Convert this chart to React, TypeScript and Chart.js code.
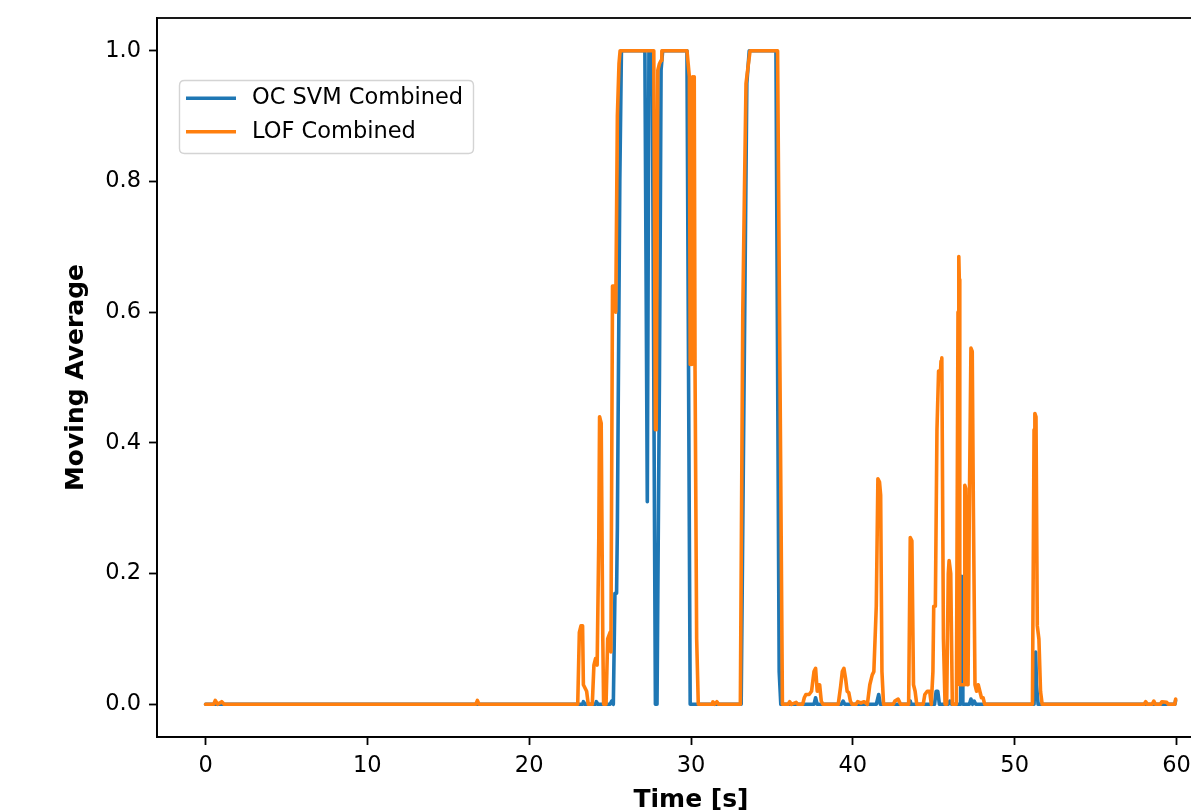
import React, { useEffect, useRef } from 'react';
import { Chart, registerables } from 'chart.js';

Chart.register(...registerables);

const FONT = '"DejaVu Sans", "Liberation Sans", sans-serif';
const BLUE = '#1f77b4';
const ORANGE = '#ff7f0e';

const X_TICKS = [0, 10, 20, 30, 40, 50, 60];
const Y_TICKS = [0, 0.2, 0.4, 0.6, 0.8, 1.0];

// LOF Combined (orange)
const LOF_T = [
  0, 0.5, 0.6, 0.75, 1.0, 1.15, 16.7, 16.8, 16.9,
  23.0, 23.1, 23.2, 23.3, 23.35, 23.45, 23.55, 23.65, 23.9, 24.0, 24.1, 24.2, 24.3, 24.35, 24.45, 24.55, 24.6,
  24.75, 24.85, 25.0, 25.05, 25.15, 25.3, 25.35, 25.45, 25.55, 25.62,
  27.7, 27.8, 27.85, 27.95, 28.05, 28.15, 28.2,
  29.75, 29.9, 29.95, 30.0, 30.05, 30.1, 30.15, 30.2, 30.25, 30.35, 30.45,
  31.3, 31.35, 31.45, 31.6, 31.7,
  33.05, 33.2, 33.3, 33.4, 33.5, 33.65,
  35.35, 35.5, 35.65,
  36.0, 36.1, 36.2, 36.5, 36.6, 36.9, 37.0, 37.1, 37.3, 37.45, 37.6, 37.7, 37.8, 37.85, 37.95, 38.05, 38.15,
  39.1, 39.25, 39.35, 39.45, 39.55, 39.65, 39.75, 39.85, 39.95,
  40.2, 40.3, 40.5, 40.7, 40.9, 41.05, 41.2, 41.3, 41.45, 41.55, 41.65, 41.72, 41.8, 41.9,
  42.5, 42.6, 42.8, 42.95, 43.45, 43.55, 43.65, 43.75, 43.85, 43.95,
  44.35, 44.45, 44.6, 44.75, 44.85, 44.95, 45.0, 45.1, 45.2, 45.3, 45.4, 45.45, 45.5, 45.6, 45.7,
  45.8, 45.9, 45.95, 46.05, 46.15,
  46.4, 46.5, 46.55, 46.58, 46.61, 46.88, 46.92, 46.98, 47.01, 47.06, 47.12, 47.2, 47.3, 47.38, 47.45, 47.55,
  47.65, 47.75, 47.85, 47.95, 48.05, 48.15,
  51.1, 51.2, 51.25, 51.32, 51.4, 51.5, 51.6, 51.7,
  58.0, 58.1, 58.2, 58.5, 58.6, 58.7, 59.0, 59.1, 59.4, 59.5, 59.9, 59.95,
];
const LOF_V = [
  0, 0, 0.006, 0, 0.004, 0, 0, 0.006, 0,
  0, 0.11, 0.12, 0.12, 0.03, 0.025, 0.02, 0, 0, 0.06, 0.07, 0.06, 0.25, 0.44, 0.43, 0.1, 0,
  0, 0.1, 0.11, 0.08, 0.64, 0.64, 0.6, 0.9, 0.98, 1.0,
  1.0, 0.42, 0.42, 0.97, 0.98, 0.985, 1.0,
  1.0, 0.96, 0.52, 0.95, 0.52, 0.96, 0.53, 0.96, 0.51, 0.1, 0,
  0, 0.004, 0, 0.004, 0,
  0, 0.6, 0.78, 0.95, 0.97, 1.0,
  1.0, 0.5, 0,
  0, 0.004, 0, 0.003, 0, 0, 0.01, 0.015, 0.015, 0.02, 0.05, 0.055, 0.02, 0.03, 0.03, 0.005, 0,
  0, 0.028, 0.05, 0.055, 0.04, 0.02, 0.018, 0.005, 0,
  0, 0.004, 0.002, 0.004, 0, 0.03, 0.045, 0.05, 0.15, 0.345, 0.34, 0.32, 0.05, 0,
  0, 0.005, 0.008, 0, 0, 0.255, 0.25, 0.03, 0.02, 0,
  0, 0.015, 0.02, 0.02, 0, 0.05, 0.15, 0.15, 0.42, 0.51, 0.5, 0.525, 0.53, 0.1, 0,
  0, 0.2, 0.22, 0.2, 0,
  0, 0.6, 0.685, 0.65, 0.03, 0.03, 0.335, 0.33, 0.25, 0.03, 0.03, 0.3, 0.545, 0.54, 0.3, 0.03,
  0.02, 0.03, 0.02, 0.01, 0.01, 0,
  0, 0.42, 0.445, 0.44, 0.12, 0.1, 0.02, 0,
  0, 0.004, 0, 0, 0.005, 0, 0, 0.004, 0.003, 0, 0, 0.008,
];

// OC SVM Combined (blue)
const SVM_T = [
  0, 23.3, 23.35, 23.45, 24.1, 24.15, 24.25, 25.0, 25.1, 25.2, 25.3, 25.4, 25.45, 25.5, 25.6, 25.7,
  27.15, 27.3, 27.4, 27.6, 27.8, 27.9, 28.05, 28.15, 28.25,
  29.75, 29.95,
  33.1, 33.35, 33.45, 33.6,
  35.25, 35.45, 35.55,
  37.6, 37.7, 37.8, 39.3, 39.4, 39.5, 41.45, 41.6, 41.7, 43.5, 43.55, 43.6,
  45.05, 45.15, 45.25, 45.35, 45.9, 46.0, 46.1, 46.66, 46.7, 46.73, 46.76, 46.8,
  47.2, 47.3, 47.4, 47.5, 47.6,
  51.2, 51.3, 51.35, 51.45, 59.9, 59.95,
];
const SVM_V = [
  0, 0, 0.004, 0, 0, 0.004, 0, 0, 0.005, 0, 0.17, 0.17, 0.27, 0.45, 0.8, 1.0,
  1.0, 0.31, 1.0, 1.0, 0, 0, 0.5, 0.97, 1.0,
  1.0, 0,
  0, 0.68, 0.95, 1.0,
  1.0, 0.05, 0,
  0, 0.01, 0, 0, 0.005, 0, 0, 0.015, 0, 0, 0.005, 0,
  0, 0.02, 0.02, 0, 0, 0.005, 0, 0, 0.12, 0.196, 0.1, 0,
  0, 0.008, 0, 0.005, 0,
  0, 0.08, 0.03, 0, 0, 0.006,
];

const LEGEND_ITEMS = [
  { label: 'OC SVM Combined', color: BLUE },
  { label: 'LOF Combined', color: ORANGE },
];

const LINE_WIDTH = 3.6;

const toPoints = (ts: number[], vs: number[]) => ts.map((t, i) => ({ x: t, y: vs[i] }));

const framePlugin = {
  id: 'frame',
  afterDraw(chart: any) {
    const { ctx, chartArea } = chart;
    ctx.save();
    ctx.strokeStyle = '#000';
    ctx.lineWidth = 1.8;
    ctx.strokeRect(chartArea.left, chartArea.top, chartArea.right - chartArea.left, chartArea.bottom - chartArea.top);
    ctx.restore();
  },
};

const legendPlugin = {
  id: 'mplLegend',
  afterDraw(chart: any) {
    const { ctx } = chart;
    ctx.save();
    const x = 179.5, y = 80.5, w = 294, h = 73, r = 5;
    ctx.beginPath();
    ctx.moveTo(x + r, y);
    ctx.lineTo(x + w - r, y);
    ctx.quadraticCurveTo(x + w, y, x + w, y + r);
    ctx.lineTo(x + w, y + h - r);
    ctx.quadraticCurveTo(x + w, y + h, x + w - r, y + h);
    ctx.lineTo(x + r, y + h);
    ctx.quadraticCurveTo(x, y + h, x, y + h - r);
    ctx.lineTo(x, y + r);
    ctx.quadraticCurveTo(x, y, x + r, y);
    ctx.closePath();
    ctx.fillStyle = 'rgba(255,255,255,0.8)';
    ctx.fill();
    ctx.strokeStyle = '#d4d4d4';
    ctx.lineWidth = 1.4;
    ctx.stroke();
    LEGEND_ITEMS.forEach((item, i) => {
      const cy = 98.3 + i * 33.4;
      ctx.beginPath();
      ctx.strokeStyle = item.color;
      ctx.lineWidth = LINE_WIDTH;
      ctx.moveTo(186, cy);
      ctx.lineTo(236, cy);
      ctx.stroke();
      ctx.fillStyle = '#000';
      ctx.font = `22.5px ${FONT}`;
      ctx.textBaseline = 'middle';
      ctx.textAlign = 'left';
      ctx.fillText(item.label, 252, cy);
    });
    ctx.restore();
  },
};

export default function App() {
  const ref = useRef<HTMLCanvasElement>(null);
  useEffect(() => {
    const canvas = ref.current;
    if (!canvas) return;
    const tickFont = { family: FONT, size: 22.5 };
    const titleFont = { family: FONT, size: 25, weight: 'bold' as const };
    const chart = new Chart(canvas, {
      type: 'line',
      data: {
        datasets: [
          {
            label: 'LOF Combined',
            data: toPoints(LOF_T, LOF_V),
            borderColor: ORANGE,
            backgroundColor: ORANGE,
            borderWidth: LINE_WIDTH,
            pointRadius: 0,
            tension: 0,
            fill: false,
            order: 0,
            borderJoinStyle: 'round',
            borderCapStyle: 'round',
          },
          {
            label: 'OC SVM Combined',
            data: toPoints(SVM_T, SVM_V),
            borderColor: BLUE,
            backgroundColor: BLUE,
            borderWidth: LINE_WIDTH,
            pointRadius: 0,
            tension: 0,
            fill: false,
            order: 1,
            borderJoinStyle: 'round',
            borderCapStyle: 'round',
          },
        ],
      },
      options: {
        responsive: false,
        animation: false,
        devicePixelRatio: 1,
        layout: { padding: { left: 0, right: 15, top: 18, bottom: 0 } },
        plugins: { legend: { display: false }, tooltip: { enabled: false } },
        scales: {
          x: {
            type: 'linear',
            min: -3,
            max: 63,
            afterBuildTicks: (s: any) => {
              s.ticks = X_TICKS.map((v) => ({ value: v }));
            },
            afterFit: (s: any) => {
              s.height = 93;
              s.paddingLeft = 0;
              s.paddingRight = 0;
            },
            ticks: {
              font: tickFont,
              color: '#000',
              padding: 8,
              maxRotation: 0,
              autoSkip: false,
              callback: (v: any) => String(v),
            },
            grid: {
              drawOnChartArea: false,
              drawTicks: true,
              tickLength: 8,
              tickColor: '#000',
              tickWidth: 1.8,
            },
            border: { display: true, color: '#000', width: 1.8 },
            title: {
              display: true,
              text: 'Time [s]',
              font: titleFont,
              color: '#000',
              padding: { top: 0, bottom: 15 },
            },
          },
          y: {
            type: 'linear',
            min: -0.05,
            max: 1.05,
            afterBuildTicks: (s: any) => {
              s.ticks = Y_TICKS.map((v) => ({ value: v }));
            },
            afterFit: (s: any) => {
              s.width = 157;
              s.paddingTop = 0;
              s.paddingBottom = 0;
            },
            ticks: {
              font: tickFont,
              color: '#000',
              padding: 8,
              autoSkip: false,
              callback: (v: any) => Number(v).toFixed(1),
            },
            grid: {
              drawOnChartArea: false,
              drawTicks: true,
              tickLength: 8,
              tickColor: '#000',
              tickWidth: 1.8,
            },
            border: { display: true, color: '#000', width: 1.8 },
            title: {
              display: true,
              text: 'Moving Average',
              font: titleFont,
              color: '#000',
              padding: { top: 61, bottom: 0 },
            },
          },
        },
      },
      plugins: [framePlugin, legendPlugin],
    } as any);
    return () => chart.destroy();
  }, []);

  return (
    <div
      style={{
        position: 'fixed',
        left: 0,
        top: 0,
        width: 1191,
        height: 810,
        overflow: 'hidden',
        background: '#fff',
      }}
    >
      <canvas ref={ref} width={1240} height={830} style={{ display: 'block' }} />
    </div>
  );
}
